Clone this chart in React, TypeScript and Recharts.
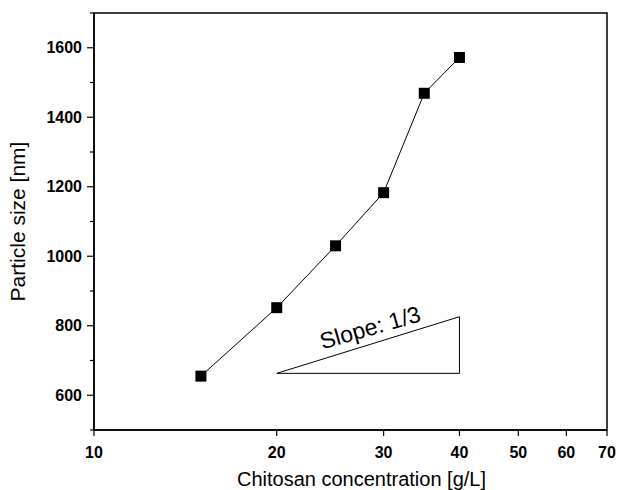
import React from 'react';
import { LineChart, Line, XAxis, YAxis, ReferenceArea, ReferenceDot, Label } from 'recharts';

const concentration = [15, 20, 25, 30, 35, 40];
const particleSize = [655, 852, 1030, 1183, 1469, 1572];

const xTicks = [10, 20, 30, 40, 50, 60, 70];
const yTicks = [500, 600, 700, 800, 900, 1000, 1100, 1200, 1300, 1400, 1500, 1600, 1700];
const yLabeled = [600, 800, 1000, 1200, 1400, 1600];

// slope guide triangle
const triangleX = [20, 40, 40, 20];
const triangleY = [663, 663, 826, 663];

const data = concentration.map((c, i) => ({ x: c, y: particleSize[i] }));
const triangle = triangleX.map((x, i) => ({ x, y: triangleY[i] }));

const font = '"Liberation Sans", Arial, sans-serif';

const SquareDot = (props: any) => {
  const { cx, cy } = props;
  if (cx == null || cy == null) return null;
  return <rect x={cx - 5.5} y={cy - 5.5} width={11} height={11} fill="#000" />;
};

const YTick = (props: any) => {
  const { x, y, payload } = props;
  const major = yLabeled.includes(payload.value);
  return (
    <g>
      <line x1={x + 8 - (major ? 7 : 4)} x2={x + 8} y1={y} y2={y} stroke="#000" strokeWidth={1.2} />
      {major && (
        <text x={x - 4} y={y} textAnchor="end" dominantBaseline="central" fontFamily={font} fontWeight="bold" fontSize={16} fill="#000">
          {payload.value}
        </text>
      )}
    </g>
  );
};

const XTick = (props: any) => {
  const { x, y, payload } = props;
  return (
    <g>
      <line x1={x} x2={x} y1={y - 8} y2={y - 2} stroke="#000" strokeWidth={1.2} />
      <text x={x} y={y + 14} textAnchor="middle" dominantBaseline="central" fontFamily={font} fontWeight="bold" fontSize={16} fill="#000">
        {payload.value}
      </text>
    </g>
  );
};

const SlopeLabel = (props: any) => {
  const { viewBox } = props;
  const cx = viewBox.x + (viewBox.width || 0) / 2;
  const cy = viewBox.y + (viewBox.height || 0) / 2;
  return (
    <text x={cx} y={cy} textAnchor="middle" dominantBaseline="central" fontFamily={font} fontSize={23} fill="#000" transform={`rotate(-16 ${cx} ${cy})`}>
      Slope: 1/3
    </text>
  );
};

export default function App() {
  return (
    <div style={{ position: 'absolute', left: 0, top: 0, background: '#fff' }}>
      <LineChart width={619} height={490} margin={{ top: 13, right: 12, bottom: 30, left: 34 }}>
        <XAxis
          dataKey="x"
          type="number"
          scale="log"
          domain={[10, 70]}
          ticks={xTicks}
          allowDataOverflow
          height={30}
          axisLine={{ stroke: '#000', strokeWidth: 1.5 }}
          tickLine={false}
          tick={<XTick />}
        >
          <Label value="Chitosan concentration [g/L]" position="bottom" offset={12} dx={11} style={{ fontFamily: font, fontSize: 20, fill: '#000' }} />
        </XAxis>
        <YAxis
          dataKey="y"
          type="number"
          domain={[500, 1700]}
          ticks={yTicks}
          allowDataOverflow
          width={60}
          axisLine={{ stroke: '#000', strokeWidth: 1.5 }}
          tickLine={false}
          tick={<YTick />}
        >
          <Label value="Particle size [nm]" angle={-90} position="insideLeft" offset={-16} style={{ fontFamily: font, fontSize: 21, fill: '#000', textAnchor: 'middle' }} />
        </YAxis>
        <ReferenceArea x1={10} x2={70} y1={500} y2={1700} fill="none" stroke="#000" strokeWidth={1.5} ifOverflow="visible" />
        <Line data={triangle} dataKey="y" stroke="#000" strokeWidth={1} dot={false} isAnimationActive={false} />
        <Line data={data} dataKey="y" stroke="#000" strokeWidth={1} dot={<SquareDot />} isAnimationActive={false} />
        <ReferenceDot x={28.5} y={795} r={0} fill="none" stroke="none">
          <Label content={<SlopeLabel />} />
        </ReferenceDot>
      </LineChart>
    </div>
  );
}
